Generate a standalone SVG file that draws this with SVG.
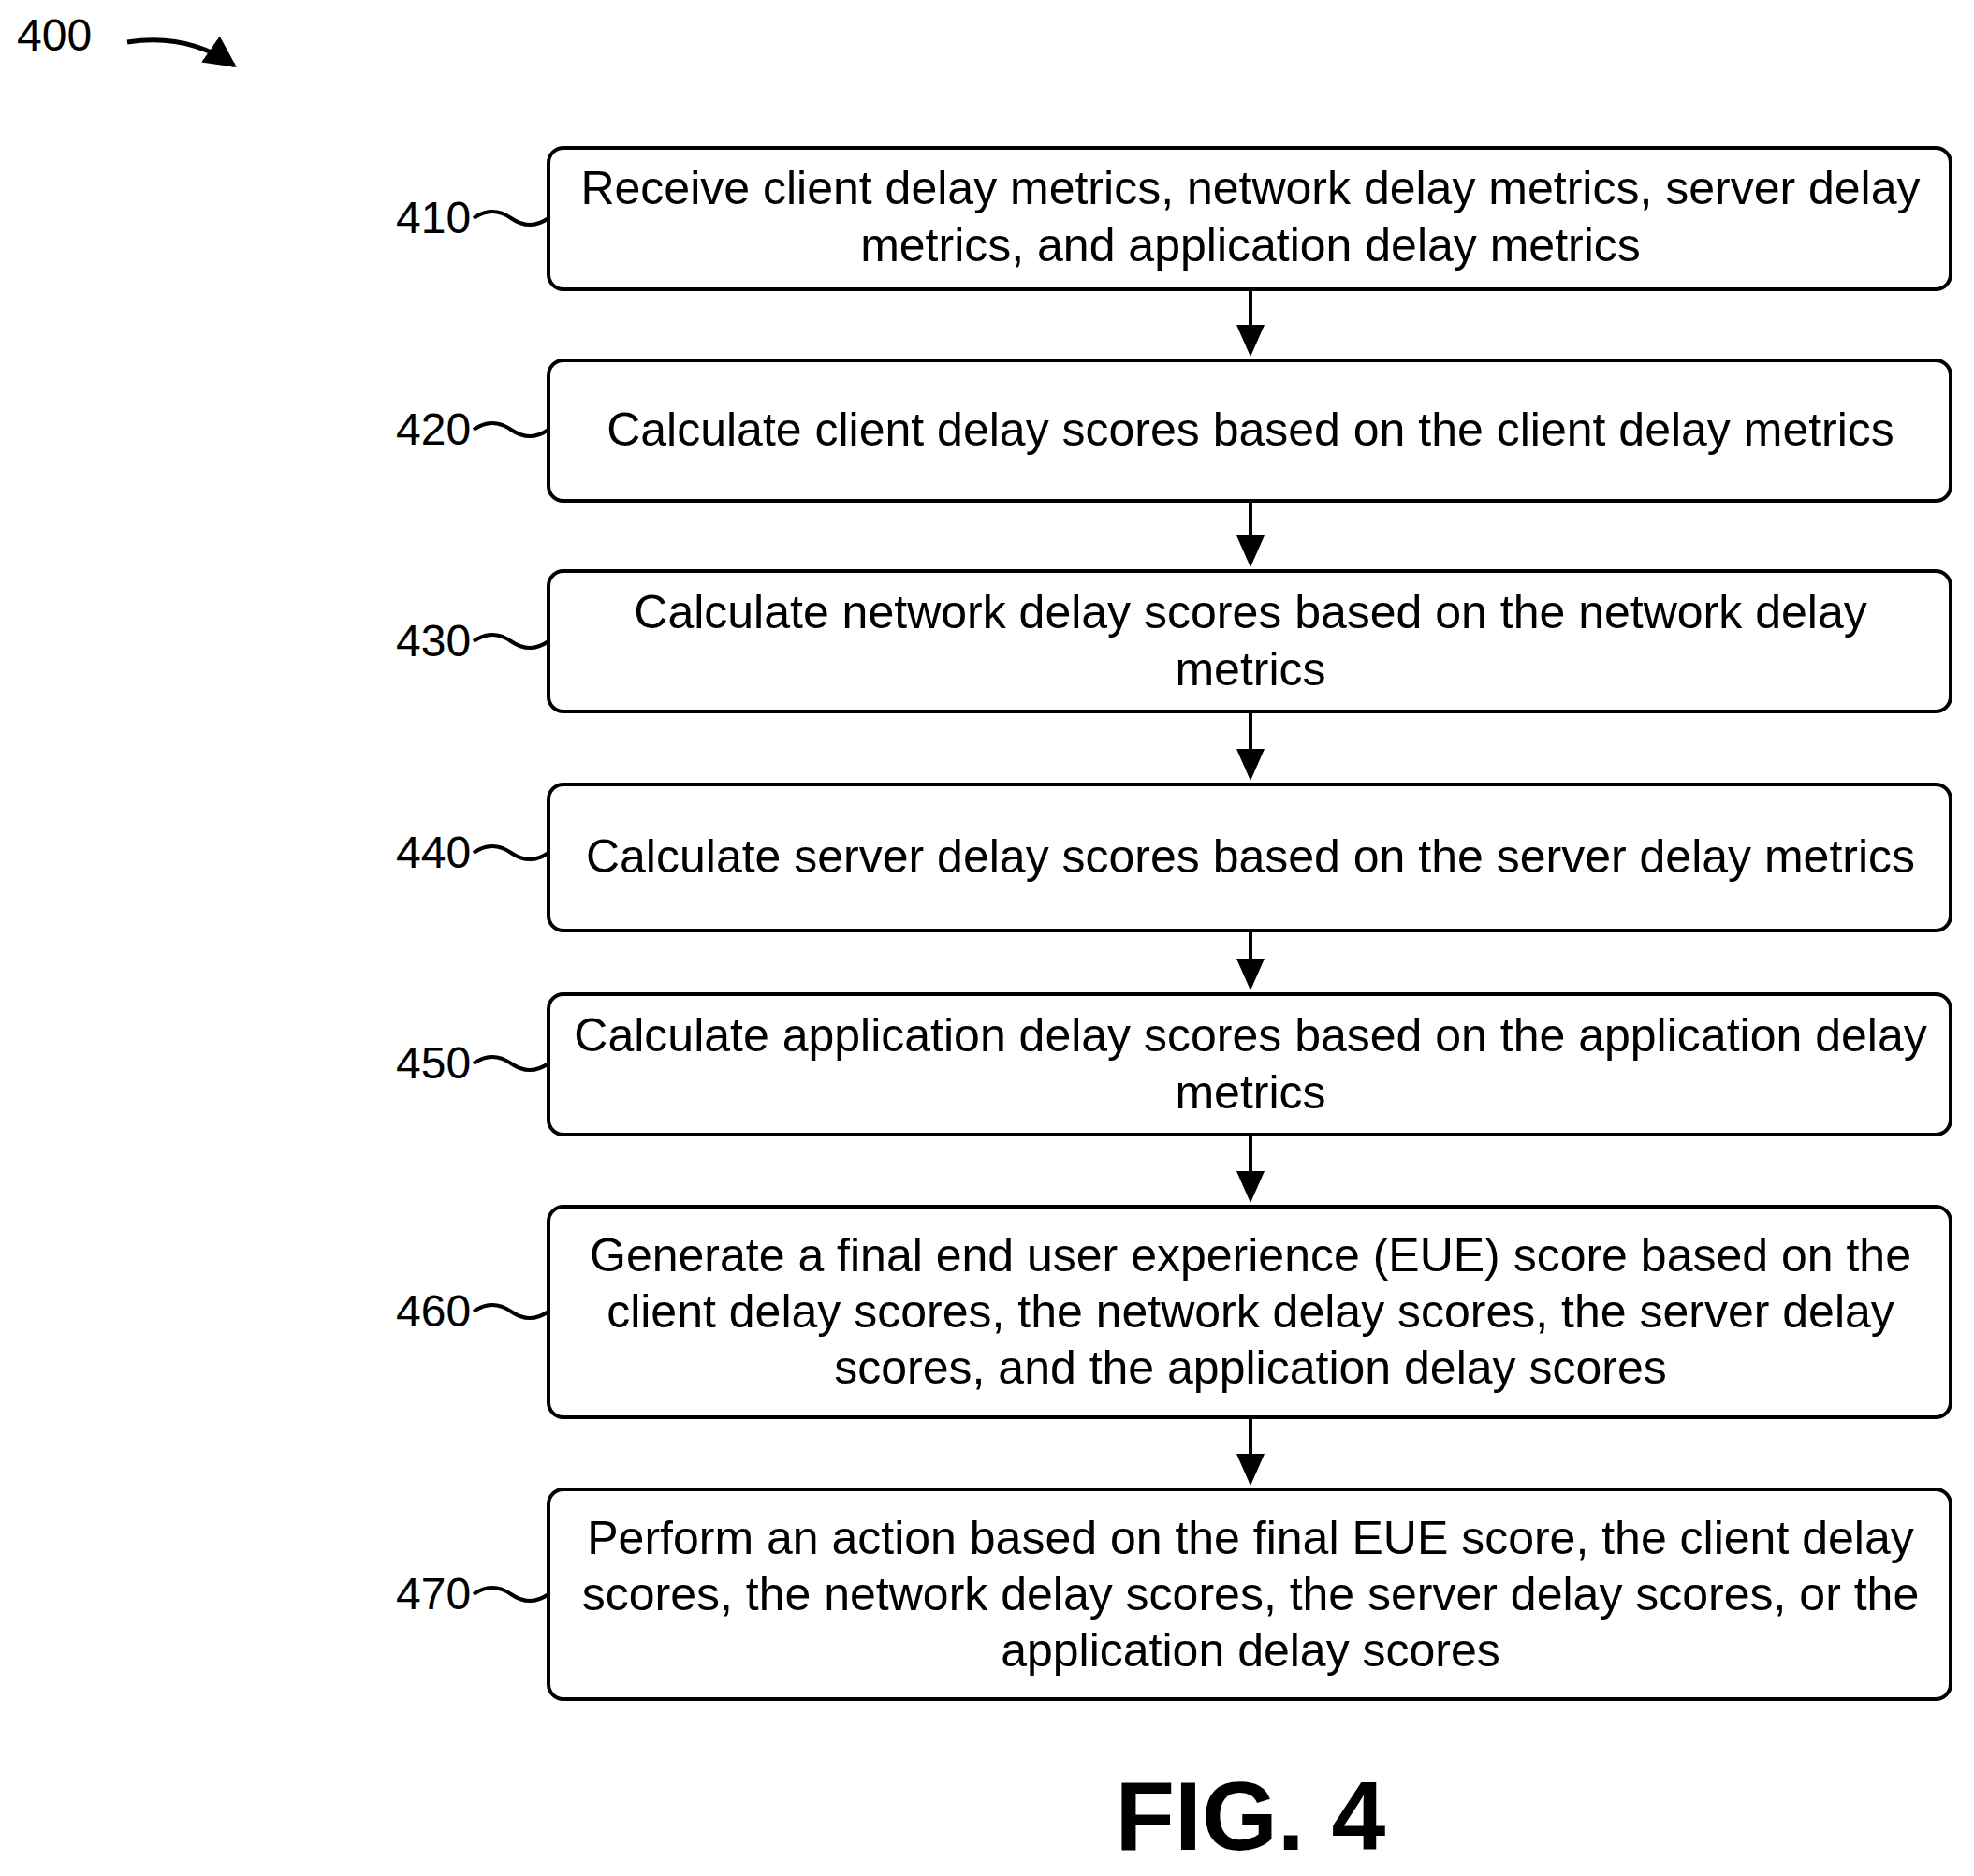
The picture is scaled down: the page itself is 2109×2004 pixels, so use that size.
<svg xmlns="http://www.w3.org/2000/svg" width="2109" height="2004" viewBox="0 0 2109 2004">
<style>
.b{fill:#fff;stroke:#000;stroke-width:4}
.t{font-family:"Liberation Sans",Arial,sans-serif;font-size:50px;text-anchor:middle}
.l{font-family:"Liberation Sans",Arial,sans-serif;font-size:48px}
.s{fill:none;stroke:#000;stroke-width:4}
</style>
<defs>
<marker id="h" viewBox="0 0 10 10" refX="9" refY="5" markerWidth="34" markerHeight="34" markerUnits="userSpaceOnUse" orient="auto"><path d="M0,0L10,5L0,10z"/></marker></defs>
<rect width="2109" height="2004" fill="#fff"/>
<text class="l" x="18" y="54">400</text>
<path d="M136,45 Q200,35 250,70" fill="none" stroke="#000" stroke-width="5" marker-end="url(#h)"/>
<g id="connectors">
<path class="s" d="M1336,311V349M1336,537V574M1336,762V802M1336,996V1026M1336,1214V1253M1336,1516V1555"/>
<path d="M1321,347h30l-15,34z M1321,572h30l-15,34z M1321,800h30l-15,34z M1321,1024h30l-15,34z M1321,1251h30l-15,34z M1321,1553h30l-15,34z"/>
</g>
<g id="n410"><rect class="b" x="586" y="158" width="1498" height="151" rx="16"/><text class="l" x="423" y="249">410</text><path class="s" d="M506,233 q20,-14 40,0 t40,0"/><text class="t" x="1336" y="218">Receive client delay metrics, network delay metrics, server delay</text><text class="t" x="1336" y="279">metrics, and application delay metrics</text></g>
<g id="n420"><rect class="b" x="586" y="385" width="1498" height="150" rx="16"/><text class="l" x="423" y="475">420</text><path class="s" d="M506,459 q20,-14 40,0 t40,0"/><text class="t" x="1336" y="476">Calculate client delay scores based on the client delay metrics</text></g>
<g id="n430"><rect class="b" x="586" y="610" width="1498" height="150" rx="16"/><text class="l" x="423" y="701">430</text><path class="s" d="M506,685 q20,-14 40,0 t40,0"/><text class="t" x="1336" y="671">Calculate network delay scores based on the network delay</text><text class="t" x="1336" y="732">metrics</text></g>
<g id="n440"><rect class="b" x="586" y="838" width="1498" height="156" rx="16"/><text class="l" x="423" y="927">440</text><path class="s" d="M506,911 q20,-14 40,0 t40,0"/><text class="t" x="1336" y="932">Calculate server delay scores based on the server delay metrics</text></g>
<g id="n450"><rect class="b" x="586" y="1062" width="1498" height="150" rx="16"/><text class="l" x="423" y="1152">450</text><path class="s" d="M506,1136 q20,-14 40,0 t40,0"/><text class="t" x="1336" y="1123">Calculate application delay scores based on the application delay</text><text class="t" x="1336" y="1184">metrics</text></g>
<g id="n460"><rect class="b" x="586" y="1289" width="1498" height="225" rx="16"/><text class="l" x="423" y="1417">460</text><path class="s" d="M506,1401 q20,-14 40,0 t40,0"/><text class="t" x="1336" y="1358">Generate a final end user experience (EUE) score based on the</text><text class="t" x="1336" y="1418">client delay scores, the network delay scores, the server delay</text><text class="t" x="1336" y="1478">scores, and the application delay scores</text></g>
<g id="n470"><rect class="b" x="586" y="1591" width="1498" height="224" rx="16"/><text class="l" x="423" y="1719">470</text><path class="s" d="M506,1703 q20,-14 40,0 t40,0"/><text class="t" x="1336" y="1660">Perform an action based on the final EUE score, the client delay</text><text class="t" x="1336" y="1720">scores, the network delay scores, the server delay scores, or the</text><text class="t" x="1336" y="1780">application delay scores</text></g>
<text x="1336" y="1976" font-family="Liberation Sans,Arial,sans-serif" font-size="104" font-weight="bold" text-anchor="middle">FIG. 4</text>
</svg>
